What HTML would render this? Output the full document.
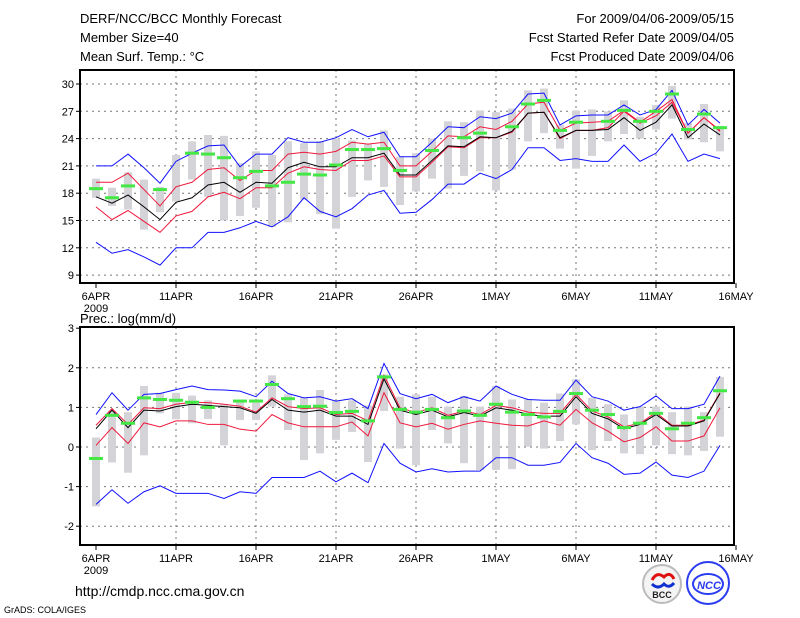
<!DOCTYPE html>
<html><head><meta charset="utf-8"><style>
body{margin:0;background:#fff;}
svg{display:block;font-family:"Liberation Sans",sans-serif;}
</style></head><body>
<svg id="chart" width="800" height="618" viewBox="0 0 800 618" xmlns="http://www.w3.org/2000/svg">
<g font-size="13" fill="#000">
<text x="80" y="23">DERF/NCC/BCC Monthly Forecast</text>
<text x="80" y="42">Member Size=40</text>
<text x="80" y="61">Mean Surf. Temp.: °C</text>
<text x="734" y="23" text-anchor="end">For 2009/04/06-2009/05/15</text>
<text x="734" y="42" text-anchor="end">Fcst Started Refer Date 2009/04/05</text>
<text x="734" y="61" text-anchor="end">Fcst Produced Date 2009/04/06</text>
<text x="80" y="323">Prec.: log(mm/d)</text>
</g>
<g id="top"></g>
<g id="bot"></g>
<text x="75" y="596" font-size="14">http://cmdp.ncc.cma.gov.cn</text>
<text x="4" y="613" font-size="9">GrADS: COLA/IGES</text>
<g>
<circle cx="662" cy="584" r="19" fill="#f4f4f4" stroke="#bbb" stroke-width="2"/>
<path d="M652 580 q5 -9 12 -3 q6 -6 10 2" fill="none" stroke="#e01010" stroke-width="3"/>
<path d="M652 584 q6 6 12 0 q5 5 10 -1" fill="none" stroke="#1030d0" stroke-width="3"/>
<text x="662" y="598" font-size="9" font-weight="bold" text-anchor="middle" fill="#222">BCC</text>
</g>
<g>
<circle cx="708" cy="583" r="21" fill="#fff" stroke="#2a3cf0" stroke-width="2"/>
<ellipse cx="708" cy="584" rx="15" ry="10" fill="none" stroke="#2a3cf0" stroke-width="2"/>
<text x="709" y="589" font-size="11" font-weight="bold" font-style="italic" text-anchor="middle" fill="#2a3cf0">NCC</text>
</g>
</svg>
<script>
// ---- temperature data (days 0..39 from 6APR) ----
const tBlueHi=[21,21,22.3,20.8,19.1,21.5,22.4,23.2,23.3,20.9,22.3,22.3,24.1,23.6,23.6,24.1,25.0,24.2,24.7,22.0,22.0,23.6,25.3,25.2,26.4,26.2,26.8,28.9,29.0,25.5,26.5,26.6,26.6,27.7,26.6,27.2,29.3,25.5,27.2,25.7];
const tRedHi=[19.2,19.2,20.2,18.4,16.6,18.7,19.2,20.6,20.8,19.4,20.5,20.5,22.3,22.5,22.3,22.6,23.6,23.4,23.6,21.0,21.0,22.6,24.3,24.2,25.3,25.0,25.9,27.8,28.0,24.9,25.7,25.8,25.9,27.1,25.8,27.0,28.3,24.6,26.3,24.9];
const tMean=[17.6,16.9,17.8,16.5,15.1,17.0,17.5,18.9,19.2,18.1,19.2,19.1,20.8,21.4,20.9,20.9,21.9,21.9,22.4,20.0,20.0,21.6,23.2,23.1,24.2,24.1,24.8,26.8,26.9,24.1,24.9,24.9,25.0,26.3,24.9,25.8,27.7,24.1,25.6,24.4];
const tRedLo=[16.5,15.1,16.1,14.9,13.7,15.5,16.0,17.6,18.1,17.4,18.6,18.6,20.2,20.9,20.6,20.5,21.6,21.6,22.1,19.8,19.8,21.4,23.1,23.0,24.1,24.1,24.7,26.8,26.9,24.0,24.9,24.9,25.2,27.0,25.7,26.5,28.0,24.6,26.3,24.8];
const tBlueLo=[12.6,11.4,11.8,11.0,10.1,12.0,12.0,13.7,13.7,14.2,14.9,14.3,15.4,17.5,16.0,15.4,16.3,17.8,18.3,15.8,15.9,17.3,19.0,19.0,20.2,19.6,20.6,23.0,23.0,21.6,21.8,21.5,21.5,23.3,21.5,22.4,24.5,21.5,22.3,21.8];
const tObs=[18.5,17.5,18.8,null,18.4,null,22.4,22.3,21.9,19.7,20.4,18.8,19.2,20.1,20.0,21.1,22.8,22.8,22.9,20.5,null,22.7,null,24.1,24.6,null,25.3,27.8,28.2,24.9,25.8,null,25.9,27.1,25.9,27.0,28.9,25.0,26.7,25.2];
const tBarHi=[19.6,18.6,20.3,19.5,18.7,22.2,23.7,24.4,24.3,21.3,22.6,22.2,23.7,23.5,23.7,24.0,23.8,23.4,24.9,22.0,22.4,24.0,25.9,25.8,27.1,26.9,27.3,29.3,29.5,25.5,27.1,27.2,27.0,28.2,26.4,27.7,29.8,25.7,27.8,25.4];
const tBarLo=[17.5,16.6,16.2,14.0,15.9,17.1,19.5,17.6,15.0,15.5,16.4,14.3,14.8,17.3,15.7,14.1,17.6,19.4,18.7,16.7,18.2,19.6,18.5,19.9,20.4,18.3,20.6,23.7,24.6,22.9,20.7,22.1,23.7,24.5,24.0,25.0,26.2,23.9,23.6,22.6];
const tTicks=[9,12,15,18,21,24,27,30];
// ---- precipitation data ----
const pBlueHi=[0.82,1.37,0.93,1.33,1.35,1.45,1.54,1.45,1.44,1.41,1.27,1.66,1.35,1.24,1.27,1.16,1.22,0.97,2.11,1.35,1.22,1.33,1.12,1.27,1.16,1.54,1.33,1.20,1.18,1.18,1.69,1.27,1.16,0.93,1.02,1.29,0.97,0.97,1.08,1.79];
const pRedHi=[0.55,0.97,0.57,0.99,0.97,1.08,1.13,1.12,1.08,1.03,0.88,1.24,1.02,0.97,0.99,0.82,0.85,0.66,1.81,0.99,0.87,0.99,0.80,0.91,0.82,1.05,0.99,0.88,0.85,0.85,1.33,0.91,0.76,0.51,0.60,0.87,0.55,0.55,0.68,1.37];
const pMean=[0.46,0.93,0.49,0.93,0.91,1.02,1.08,1.05,1.02,0.99,0.85,1.20,0.93,0.88,0.93,0.78,0.78,0.57,1.72,0.93,0.82,0.93,0.76,0.87,0.78,0.99,0.93,0.82,0.78,0.78,1.27,0.85,0.71,0.46,0.57,0.82,0.53,0.53,0.66,1.35];
const pRedLo=[0.04,0.49,0.09,0.61,0.51,0.66,0.66,0.57,0.57,0.45,0.40,0.82,0.61,0.51,0.51,0.51,0.63,0.28,1.37,0.61,0.51,0.60,0.45,0.57,0.66,0.60,0.55,0.53,0.66,0.55,0.95,0.61,0.40,0.13,0.24,0.51,0.15,0.15,0.28,0.99];
const pBlueLo=[-1.45,-1.08,-1.42,-1.13,-0.98,-1.17,-1.17,-1.17,-1.30,-1.13,-1.17,-0.77,-0.77,-0.77,-0.61,-0.88,-0.66,-0.90,0.09,-0.41,-0.63,-0.55,-0.63,-0.61,-0.61,-0.27,-0.27,-0.46,-0.46,-0.39,0.09,-0.27,-0.41,-0.69,-0.66,-0.38,-0.71,-0.77,-0.61,0.04];
const pObs=[-0.29,0.80,0.60,1.24,1.20,1.18,1.13,1.00,null,1.16,1.16,1.58,1.22,1.02,1.03,0.87,0.90,0.66,1.77,0.95,0.88,0.95,0.74,0.91,0.80,1.08,0.88,0.82,0.76,0.90,1.35,0.93,0.82,0.49,0.60,0.85,0.46,0.60,0.74,1.42];
const pBarHi=[0.24,0.91,0.88,1.54,1.37,1.37,1.30,1.18,1.08,1.20,1.12,1.81,1.33,1.24,1.44,1.16,1.18,1.05,1.83,1.27,1.33,1.27,1.02,1.29,1.02,1.54,1.20,1.20,1.12,1.35,1.71,1.24,1.08,0.82,1.02,1.02,0.88,1.02,0.88,1.77];
const pBarLo=[-1.50,-0.39,-0.65,-0.21,0.85,0.70,0.60,0.71,0.04,0.68,0.68,1.02,0.43,-0.33,-0.16,0.18,0.38,-0.38,0.91,-0.04,-0.46,0.43,0.09,-0.41,-0.58,-0.58,-0.56,0.01,-0.04,0.15,0.57,-0.08,0.15,-0.16,-0.18,0.04,-0.18,-0.21,-0.10,0.26];
const pTicks=[-2,-1,0,1,2,3];
const xLabels=["6APR","11APR","16APR","21APR","26APR","1MAY","6MAY","11MAY","16MAY"];

const NS="http://www.w3.org/2000/svg";
function mk(tag,attrs,parent){const e=document.createElementNS(NS,tag);for(const k in attrs)e.setAttribute(k,attrs[k]);parent.appendChild(e);return e;}
const xs=d=>96+16*d;

function panel(g,cfg){
  const ys=v=>cfg.y0+(v-cfg.v0)*cfg.k;
  const L=80,R=734;
  // grid
  cfg.ticks.forEach(t=>{
    const y=ys(t);
    if(y>cfg.top+2&&y<cfg.bottom-2){const l=mk('line',{x1:L,x2:R,y1:y,y2:y,stroke:'#777','stroke-dasharray':'2,4','stroke-width':1},g);
    
    }
    const tk=mk('line',{x1:L-4,x2:L,y1:y,y2:y,stroke:'#000'},g);
    
    
    const tx=mk('text',{x:L-6,y:y+4,'font-size':11,'text-anchor':'end'},g);tx.textContent=t;
    
    
  });
  xLabels.forEach((lb,i)=>{
    const x=xs(i*5);
    if(i>0&&i<8){const l=mk('line',{x1:x,x2:x,y1:cfg.top,y2:cfg.bottom,stroke:'#777','stroke-dasharray':'2,4'},g);
    
    }
    const tk=mk('line',{x1:x,x2:x,y1:cfg.bottom,y2:cfg.bottom+5,stroke:'#000'},g);
    
    
    const tx=mk('text',{x:x,y:cfg.bottom+17,'font-size':11,'text-anchor':'middle'},g);tx.textContent=lb;
    
    
  });
  const yr=mk('text',{x:96,y:cfg.bottom+29,'font-size':11,'text-anchor':'middle'},g);yr.textContent='2009';
  
  
  // bars
  cfg.barHi.forEach((h,d)=>{
    const lo=cfg.barLo[d];const y1=ys(h),y2=ys(lo);
    const r=mk('rect',{x:xs(d)-4,y:Math.min(y1,y2),width:8,height:Math.abs(y2-y1),fill:'#d4d4d8'},g);
    
    
  });
  const line=(arr,col,w,name)=>{
    const p=mk('polyline',{points:arr.map((v,d)=>xs(d)+','+ys(v)).join(' '),fill:'none',stroke:col,'stroke-width':w},g);
    
    
  };
  line(cfg.blueHi,'#1010ff',1,'upper-bound-line');
  line(cfg.blueLo,'#1010ff',1,'lower-bound-line');
  line(cfg.redHi,'#f0183c',1,'upper-std-line');
  line(cfg.redLo,'#f0183c',1,'lower-std-line');
  line(cfg.mean,'#000',1,'ensemble-mean-line');
  cfg.obs.forEach((v,d)=>{
    if(v===null)return;
    const r=mk('rect',{x:xs(d)-7,y:ys(v)-1.5,width:14,height:3,fill:'#44e844'},g);
    
    
  });
  const f=mk('rect',{x:L,y:cfg.top,width:R-L,height:cfg.bottom-cfg.top,fill:'none',stroke:'#000','stroke-width':2},g);
  
  
}
panel(document.getElementById('top'),{top:70,bottom:283,y0:84,v0:30,k:-9.1,ticks:tTicks,
  blueHi:tBlueHi,blueLo:tBlueLo,redHi:tRedHi,redLo:tRedLo,mean:tMean,obs:tObs,barHi:tBarHi,barLo:tBarLo});
panel(document.getElementById('bot'),{top:327,bottom:545,y0:447,v0:0,k:-39.6,ticks:pTicks,
  blueHi:pBlueHi,blueLo:pBlueLo,redHi:pRedHi,redLo:pRedLo,mean:pMean,obs:pObs,barHi:pBarHi,barLo:pBarLo});
</script>
</body></html>
